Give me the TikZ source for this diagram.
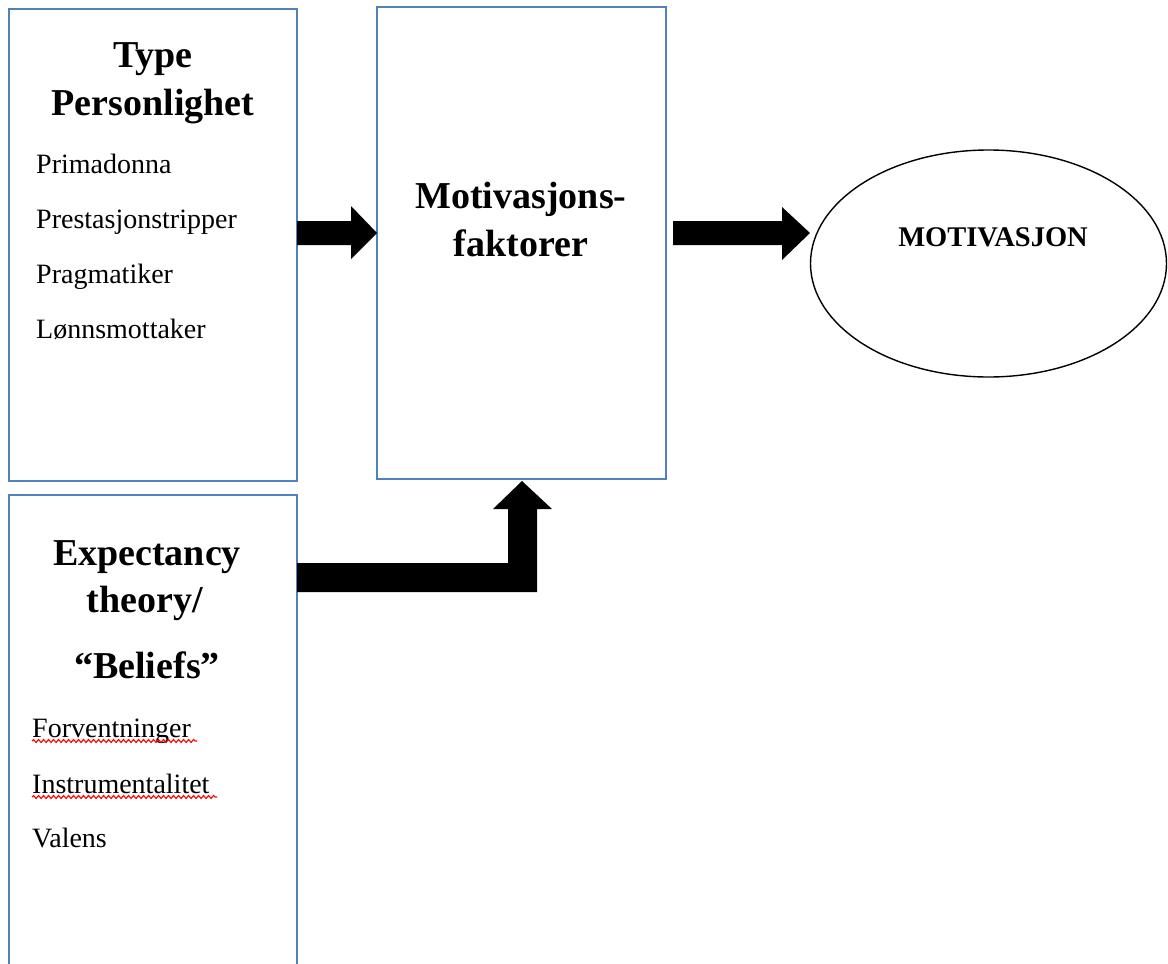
\documentclass[tikz,border=0pt]{standalone}
\usepackage{fontspec}
\setmainfont{Liberation Serif}
\usetikzlibrary{shapes.geometric,decorations.pathmorphing}
\definecolor{boxblue}{RGB}{79,129,189}
\begin{document}
\begin{tikzpicture}[x=1pt,y=-1pt,
 box/.style={draw=boxblue,line width=1.4pt,inner sep=0pt,fill=white},
 head/.style={font=\fontsize{38}{46}\selectfont\bfseries,anchor=base,inner sep=0pt},
 item/.style={font=\fontsize{28}{34}\selectfont,anchor=base west,inner sep=0pt},
 blockarrow/.style={fill=black,draw=none},
 spell/.style={draw=red,line width=1.1pt,decorate,decoration={snake,amplitude=1.5pt,segment length=5pt}}]
\useasboundingbox (0,0) rectangle (1168,964);
\begin{scope}
\clip (0,0) rectangle (1168,964);
% boxes
\node[box,minimum width=288pt,minimum height=472pt] (b1) at (153,245) {};
\node[box,minimum width=289pt,minimum height=472pt] (b2) at (521.5,243) {};
\node[box,minimum width=288pt,minimum height=480pt] (b3) at (153,735) {};
\node[draw,line width=1.4pt,ellipse,minimum width=356pt,minimum height=227pt,inner sep=0pt] (m) at (988.5,263.5) {};
% block arrows
\fill[blockarrow] (297,221) -- (351,221) -- (351,206) -- (377,233) -- (351,259) -- (351,245) -- (297,245) -- cycle;
\fill[blockarrow] (673,221) -- (782,221) -- (782,207) -- (810,233) -- (782,260) -- (782,245) -- (673,245) -- cycle;
\fill[blockarrow] (297,563) -- (508,563) -- (508,509) -- (493,509) -- (522,481) -- (552,509) -- (537,509) -- (537,592) -- (297,592) -- cycle;
\end{scope}
% texts box 1
\node[head] (t1) at (153,67) {Type};
\node[head] (t2) at (153,115) {Personlighet};
\node[item] (i1) at (36,173) {Primadonna};
\node[item] (i2) at (36,228) {Prestasjonstripper};
\node[item] (i3) at (36,283) {Pragmatiker};
\node[item] (i4) at (36,338) {Lønnsmottaker};
% texts box 2
\node[head] (m1) at (521,208) {Motivasjons-};
\node[head] (m2) at (521,256) {faktorer};
% ellipse text
\node[font=\fontsize{28.5}{34}\selectfont\bfseries,anchor=base,inner sep=0pt] (mt) at (993,246) {MOTIVASJON};
% texts box 3
\node[head] (e1) at (147,565) {Expectancy};
\node[head] (e2) at (145,612) {theory/};
\node[head] (e3) at (147,678) {“Beliefs”};
\node[item] (f1) at (32,737) {Forventninger};
\node[item] (f2) at (32,793) {Instrumentalitet};
\node[item] (f3) at (32,847) {Valens};
\draw[spell] (f1.base west) ++(0,4) -- ++(165,0);
\draw[spell] (f2.base west) ++(0,4) -- ++(185,0);
\end{tikzpicture}
\end{document}
